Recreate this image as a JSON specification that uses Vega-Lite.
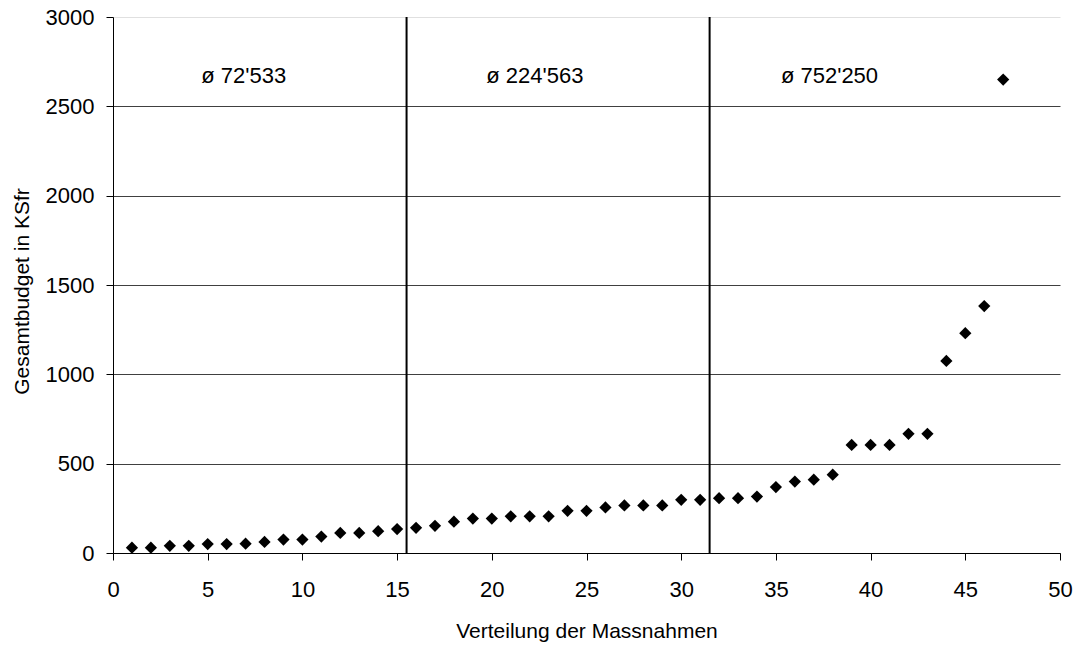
{
  "$schema": "https://vega.github.io/schema/vega-lite/v6.json",
  "width": 947,
  "height": 536,
  "autosize": {"type": "none"},
  "padding": {"left": 113, "top": 17, "right": 17, "bottom": 92},
  "background": "white",
  "config": {
    "view": {"stroke": null},
    "font": "Liberation Sans"
  },
  "datasets": {
    "points": [
      {"n": 1, "budget": 30}, {"n": 2, "budget": 30}, {"n": 3, "budget": 40}, {"n": 4, "budget": 40},
      {"n": 5, "budget": 50}, {"n": 6, "budget": 50}, {"n": 7, "budget": 52}, {"n": 8, "budget": 62},
      {"n": 9, "budget": 75}, {"n": 10, "budget": 75}, {"n": 11, "budget": 92}, {"n": 12, "budget": 112},
      {"n": 13, "budget": 112}, {"n": 14, "budget": 122}, {"n": 15, "budget": 134},
      {"n": 16, "budget": 141}, {"n": 17, "budget": 152}, {"n": 18, "budget": 175}, {"n": 19, "budget": 193},
      {"n": 20, "budget": 193}, {"n": 21, "budget": 205}, {"n": 22, "budget": 205}, {"n": 23, "budget": 205},
      {"n": 24, "budget": 236}, {"n": 25, "budget": 236}, {"n": 26, "budget": 255}, {"n": 27, "budget": 266},
      {"n": 28, "budget": 266}, {"n": 29, "budget": 266}, {"n": 30, "budget": 298}, {"n": 31, "budget": 298},
      {"n": 32, "budget": 307}, {"n": 33, "budget": 307}, {"n": 34, "budget": 316}, {"n": 35, "budget": 369},
      {"n": 36, "budget": 400}, {"n": 37, "budget": 410}, {"n": 38, "budget": 438}, {"n": 39, "budget": 605},
      {"n": 40, "budget": 605}, {"n": 41, "budget": 605}, {"n": 42, "budget": 667}, {"n": 43, "budget": 667},
      {"n": 44, "budget": 1075}, {"n": 45, "budget": 1230}, {"n": 46, "budget": 1382}, {"n": 47, "budget": 2650}
    ],
    "dividers": [{"x": 15.5}, {"x": 31.5}],
    "labels": [
      {"x": 6.9, "y": 2631, "text": "ø 72'533"},
      {"x": 22.27, "y": 2631, "text": "ø 224'563"},
      {"x": 37.83, "y": 2631, "text": "ø 752'250"}
    ]
  },
  "layer": [
    {
      "data": {"name": "points"},
      "mark": {"type": "point", "shape": "diamond", "filled": true, "color": "black", "size": 150, "opacity": 1},
      "encoding": {
        "x": {
          "field": "n", "type": "quantitative",
          "scale": {"domain": [0, 50], "nice": false, "zero": false},
          "axis": {
            "title": "Verteilung der Massnahmen",
            "values": [0, 5, 10, 15, 20, 25, 30, 35, 40, 45, 50],
            "format": "d",
            "grid": false,
            "domainColor": "black", "domainWidth": 1,
            "tickColor": "black", "tickSize": 7, "tickWidth": 1,
            "labelFontSize": 22, "labelColor": "black", "labelPadding": 19, "labelFont": "Liberation Sans",
            "labelFlush": false, "labelOverlap": false,
            "titleFontSize": 21, "titleFontWeight": "normal", "titleColor": "black", "titleFont": "Liberation Sans",
            "titleBaseline": "alphabetic", "titleY": 84
          }
        },
        "y": {
          "field": "budget", "type": "quantitative",
          "scale": {"domain": [0, 3000], "nice": false},
          "axis": {
            "title": "Gesamtbudget in KSfr",
            "values": [0, 500, 1000, 1500, 2000, 2500, 3000],
            "format": "d",
            "grid": true,
            "gridColor": {"condition": {"test": "datum.value === 3000", "value": "#e0e0e0"}, "value": "#404040"},
            "gridWidth": 1,
            "domainColor": "black", "domainWidth": 1,
            "tickColor": "black", "tickSize": 7, "tickWidth": 1,
            "labelFontSize": 22, "labelColor": "black", "labelPadding": 12, "labelFont": "Liberation Sans",
            "labelFlush": false, "labelOverlap": false,
            "titleFontSize": 21, "titleFontWeight": "normal", "titleColor": "black", "titleFont": "Liberation Sans",
            "titleBaseline": "alphabetic", "titleX": -85, "titleY": 274, "titleAngle": -90
          }
        }
      }
    },
    {
      "data": {"name": "dividers"},
      "mark": {"type": "rule", "color": "black", "strokeWidth": 2},
      "encoding": {
        "x": {"field": "x", "type": "quantitative"}
      }
    },
    {
      "data": {"name": "labels"},
      "mark": {"type": "text", "fontSize": 22, "font": "Liberation Sans", "color": "black", "align": "center", "baseline": "alphabetic"},
      "encoding": {
        "x": {"field": "x", "type": "quantitative"},
        "y": {"field": "y", "type": "quantitative"},
        "text": {"field": "text"}
      }
    }
  ]
}
